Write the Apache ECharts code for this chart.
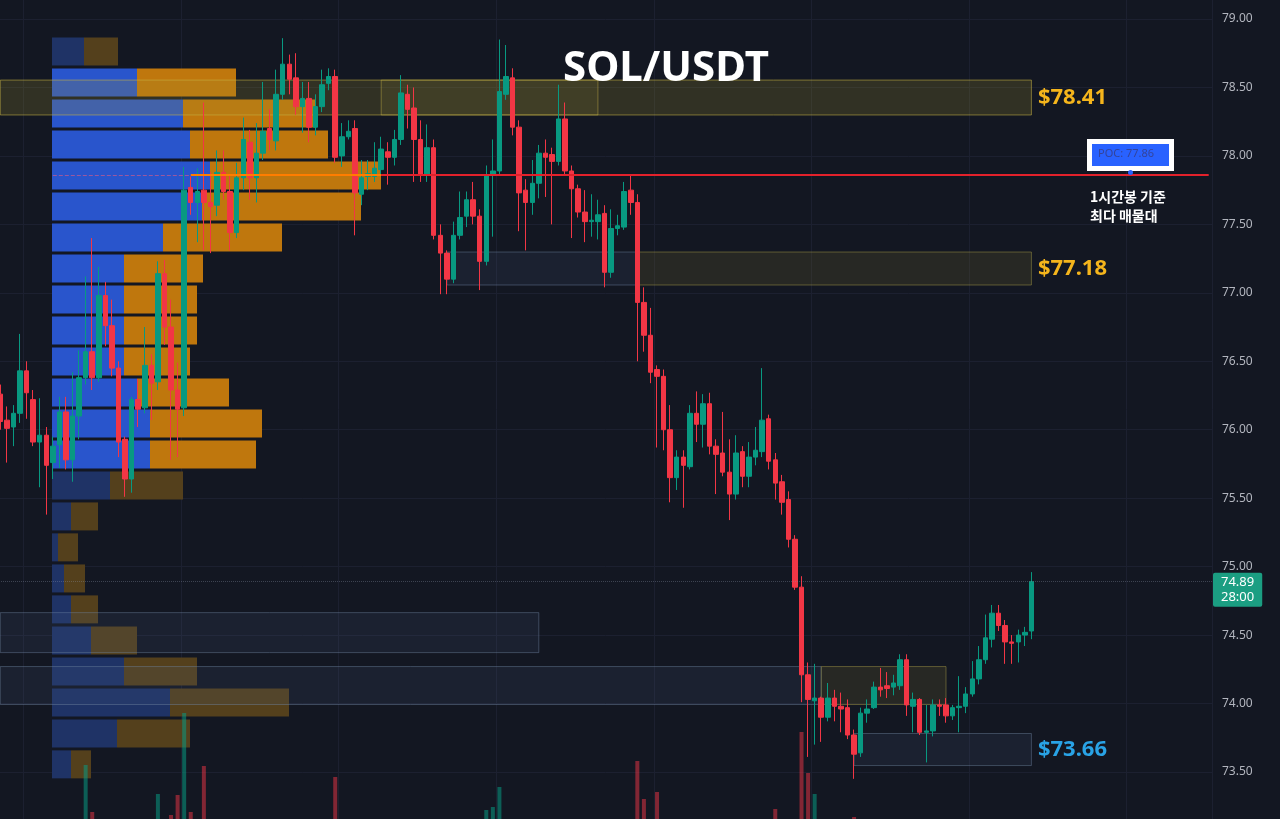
<!DOCTYPE html>
<html>
<head>
<meta charset="utf-8">
<title>SOL/USDT</title>
<script src="https://cdn.jsdelivr.net/npm/echarts@6/dist/echarts.min.js"></script>
<style>
  html, body { margin: 0; padding: 0; background: #131722; }
  #main { width: 1280px; height: 819px; }
</style>
</head>
<body>
<div id="main"></div>
<script>
// 1h candles, oldest first
const opens = [
  76.26,76.07,76.02,76.12,76.43,76.22,75.91,75.96,75.76,75.89,
  76.13,75.78,76.10,76.38,76.57,76.38,76.98,76.76,76.45,75.93,
  75.64,76.22,76.16,76.47,76.35,77.14,76.75,76.29,76.16,77.77,
  77.66,77.75,77.66,77.64,77.88,77.74,77.44,77.84,78.10,77.84,
  78.02,78.20,78.11,78.45,78.67,78.57,78.36,78.42,78.21,78.36,
  78.53,78.58,78.00,78.14,78.20,77.72,77.85,77.85,77.90,78.03,
  77.99,78.12,78.45,78.35,78.12,77.86,78.06,77.42,77.29,77.10,
  77.42,77.56,77.68,77.56,77.23,77.86,77.89,78.45,78.57,78.21,
  77.75,77.66,77.80,78.02,78.01,77.96,78.27,77.89,77.76,77.59,
  77.52,77.52,77.58,77.15,77.47,77.48,77.75,77.66,76.93,76.69,
  76.44,76.39,76.00,75.65,75.80,75.73,76.12,76.04,76.19,75.88,
  75.83,75.69,75.53,75.84,75.66,75.80,75.84,76.08,75.78,75.62,
  75.49,75.20,74.85,74.21,74.02,74.04,73.90,74.04,73.98,73.97,
  73.77,73.64,73.93,73.97,74.12,74.13,74.12,74.13,74.32,73.98,
  74.03,73.79,73.80,73.99,73.99,73.91,73.97,73.98,74.07,74.18,
  74.32,74.47,74.66,74.57,74.45,74.45,74.50,74.53
];
const closes = [
  76.06,76.01,76.12,76.43,76.27,75.91,75.96,75.74,75.88,76.13,
  75.78,76.10,76.38,76.57,76.38,76.98,76.76,76.45,75.91,75.64,
  76.22,76.15,76.47,76.34,77.14,76.75,76.29,76.15,77.75,77.66,
  77.74,77.66,77.63,77.88,77.74,77.44,77.84,78.12,77.84,78.02,
  78.18,78.12,78.45,78.67,78.56,78.36,78.42,78.21,78.36,78.52,
  78.58,77.99,78.14,78.18,77.73,77.84,77.87,77.91,78.05,77.99,
  78.12,78.46,78.34,78.12,77.86,78.06,77.42,77.29,77.10,77.42,
  77.55,77.68,77.56,77.23,77.86,77.89,78.47,78.58,78.21,77.73,
  77.66,77.80,78.02,77.99,77.96,78.27,77.89,77.76,77.59,77.52,
  77.53,77.57,77.15,77.47,77.49,77.74,77.66,76.93,76.69,76.42,
  76.39,76.00,75.65,75.80,75.74,76.12,76.04,76.19,75.88,75.82,
  75.69,75.53,75.83,75.66,75.80,75.85,76.07,75.77,75.61,75.47,
  75.20,74.85,74.21,74.03,74.04,73.90,74.04,73.98,73.96,73.77,
  73.63,73.93,73.96,74.12,74.10,74.11,74.15,74.32,73.99,74.03,
  73.79,73.80,73.99,73.98,73.91,73.97,73.98,74.07,74.18,74.32,
  74.48,74.66,74.57,74.45,74.44,74.50,74.52,74.89
];
const lows = [
  76.00,75.76,75.88,76.05,76.08,75.88,75.58,75.38,75.64,75.72,
  75.71,75.62,75.93,76.33,76.29,76.35,76.61,76.39,75.80,75.51,
  75.54,76.02,76.12,76.07,76.29,76.62,75.78,75.80,76.10,77.57,
  77.37,77.31,77.29,77.56,77.68,77.31,77.40,77.75,77.68,77.66,
  77.97,78.04,78.04,78.41,78.45,78.30,78.17,78.10,78.15,78.32,
  78.48,77.95,77.92,78.12,77.42,77.64,77.75,77.81,77.86,77.79,
  77.93,78.08,78.20,77.81,77.81,77.81,77.39,76.99,76.99,77.07,
  77.39,77.48,77.50,77.02,77.20,77.41,77.86,78.41,78.15,77.45,
  77.31,77.57,77.69,77.70,77.50,77.93,77.86,77.40,77.55,77.37,
  77.41,77.39,77.04,77.11,77.42,77.46,77.57,76.50,76.57,76.34,
  75.87,75.85,75.47,75.56,75.43,75.71,75.91,75.87,75.82,75.53,
  75.66,75.34,75.49,75.58,75.58,75.74,75.80,75.71,75.49,75.38,
  75.14,74.83,74.01,73.61,73.70,73.72,73.87,73.87,73.79,73.74,
  73.45,73.61,73.86,73.96,74.05,74.04,74.06,74.10,73.91,73.79,
  73.77,73.57,73.76,73.91,73.86,73.88,73.79,73.93,74.05,74.14,
  74.29,74.41,74.53,74.29,74.29,74.30,74.42,74.47
];
const highs = [
  76.33,76.17,76.18,76.70,76.50,76.29,76.23,76.02,75.95,76.24,
  76.24,76.42,76.58,77.12,77.40,77.19,77.08,76.95,76.50,75.95,
  76.24,76.37,76.75,76.55,77.23,77.24,76.95,76.49,77.92,77.85,
  77.91,78.39,77.88,78.04,78.04,77.86,77.95,78.28,78.19,78.24,
  78.54,78.34,78.63,78.86,78.74,78.75,78.54,78.54,78.45,78.63,
  78.64,78.63,78.24,78.26,78.26,77.97,77.97,78.10,78.14,78.10,
  78.19,78.59,78.52,78.50,78.26,78.23,78.12,77.50,77.31,77.52,
  77.74,77.74,77.81,77.61,77.93,78.12,78.85,78.81,78.64,78.26,
  77.83,77.97,78.08,78.12,78.06,78.52,78.39,77.93,77.79,77.75,
  77.72,77.68,77.64,77.61,77.57,77.81,77.86,77.72,77.04,76.89,
  76.47,76.44,76.18,75.85,75.85,76.18,76.28,76.26,76.27,75.93,
  76.13,75.93,75.96,75.88,75.91,76.02,76.45,76.11,75.83,75.67,
  75.55,75.23,74.93,74.30,74.29,74.05,74.15,74.10,74.08,74.03,
  73.81,73.97,74.03,74.16,74.26,74.23,74.21,74.36,74.36,74.08,
  74.04,73.99,74.03,74.03,74.04,73.99,74.20,74.12,74.31,74.42,
  74.65,74.72,74.72,74.61,74.50,74.54,74.56,74.96
];

// volume bars that rise into view at the bottom edge (candle index -> volume)
const volIndex = [13, 14, 24, 26, 27, 28, 29, 31, 51, 74, 75, 76, 97, 98, 100, 118, 122, 123, 124, 130];
const volValue = [1540, 1070, 1250, 1040, 1240, 2060, 1070, 1530, 1420, 1090, 1120, 1320, 1580, 1200, 1270, 1100, 1870, 1460, 1250, 1020];

// visible range volume profile (row top price, buy volume, sell volume)
const profileTop = [78.865, 78.639, 78.412, 78.186, 77.959, 77.733, 77.507, 77.280, 77.054, 76.827, 76.601, 76.375,
  76.148, 75.922, 75.695, 75.469, 75.243, 75.016, 74.790, 74.563, 74.337, 74.110, 73.884, 73.658];
const profileBuy = [32, 85, 131, 138, 158, 150, 111, 72, 72, 72, 72, 85, 98, 98, 58, 19, 6, 12, 19, 39, 72, 118, 65, 19];
const profileSell = [34, 99, 133, 138, 171, 159, 119, 79, 73, 73, 66, 92, 112, 106, 73, 27, 20, 21, 27, 46, 73, 119, 73, 20];
const valueArea = [0, 1, 1, 1, 1, 1, 1, 1, 1, 1, 1, 1, 1, 1, 0, 0, 0, 0, 0, 0, 0, 0, 0, 0];
const profileBin = 0.2264;

const pocPrice = 77.86;
const lastPrice = 74.89;
const barTimer = '28:00';

const slotCount = 185;  // candles + empty space on the right
const categories = [];
for (let i = 0; i < slotCount; i++) categories.push(String(i));

const candleData = [];
for (let i = 0; i < slotCount; i++) {
  if (i < opens.length) candleData.push([opens[i], closes[i], lows[i], highs[i]]);
  else candleData.push('-');
}

const UP = '#089981';
const DOWN = '#f23645';

const volData = [];
for (let i = 0; i < slotCount; i++) volData.push('-');
for (let k = 0; k < volIndex.length; k++) {
  const i = volIndex[k];
  volData[i] = {
    value: volValue[k],
    itemStyle: { color: closes[i] >= opens[i] ? 'rgba(8,153,129,0.55)' : 'rgba(242,54,69,0.5)' }
  };
}

const profileData = [];
for (let k = 0; k < profileTop.length; k++) {
  profileData.push([profileTop[k], profileBuy[k], profileSell[k], valueArea[k]]);
}

const zoneYellow = { color: 'rgba(160,145,45,0.22)', borderColor: 'rgba(200,180,70,0.55)', borderWidth: 1 };
const zoneOlive = { color: 'rgba(120,110,45,0.2)', borderColor: 'rgba(160,150,70,0.5)', borderWidth: 1 };
const zoneBlue = { color: 'rgba(80,100,135,0.14)', borderColor: 'rgba(110,130,160,0.45)', borderWidth: 1 };
const zoneLabel = function (text, color) {
  return { show: true, position: 'right', distance: 6, formatter: text, color: color,
    fontSize: 22, fontWeight: 'bold', fontFamily: 'Noto Sans' };
};

const chart = echarts.init(document.getElementById('main'));

const option = {
  backgroundColor: '#131722',
  animation: false,
  grid: [
    { left: -3, right: 68, top: -49.45, bottom: -21.45, outerBoundsMode: 'none', containLabel: false },
    { left: -3, right: 68, top: 700, bottom: -100, outerBoundsMode: 'none', containLabel: false },
    { left: 52, right: 228, top: -49.45, bottom: -21.45, outerBoundsMode: 'none', containLabel: false }
  ],
  xAxis: [
    {
      type: 'category', gridIndex: 0, data: categories, boundaryGap: true,
      axisLine: { show: false }, axisTick: { show: false }, axisLabel: { show: false },
      splitLine: {
        show: true,
        interval: function (index) { return index % 24 === 4; },
        lineStyle: { color: '#1c2030', width: 1 }
      }
    },
    {
      type: 'category', gridIndex: 1, data: categories, boundaryGap: true,
      axisLine: { show: false }, axisTick: { show: false }, axisLabel: { show: false }, splitLine: { show: false }
    },
    {
      type: 'value', gridIndex: 2, min: 0, max: 1000, show: false
    }
  ],
  yAxis: [
    {
      type: 'value', gridIndex: 0, position: 'right', min: 73, max: 79.5, interval: 0.5,
      axisLine: { show: false }, axisTick: { show: false },
      axisLabel: {
        margin: 10, color: '#b2b5be', fontSize: 12, fontFamily: 'Noto Sans',
        formatter: function (v) { return v.toFixed(2); }
      },
      splitLine: { show: true, lineStyle: { color: '#1c2030', width: 1 } }
    },
    { type: 'value', gridIndex: 1, min: 0, max: 2190, show: false },
    { type: 'value', gridIndex: 2, min: 73, max: 79.5, show: false }
  ],
  series: [
    {
      name: 'profile',
      type: 'custom',
      xAxisIndex: 2,
      yAxisIndex: 2,
      z: 0,
      silent: true,
      data: profileData,
      renderItem: function (params, api) {
        const top = api.value(0);
        const buy = api.value(1);
        const sell = api.value(2);
        const va = api.value(3) === 1;
        const p0 = api.coord([0, top]);
        const p1 = api.coord([buy, top - profileBin]);
        const p2 = api.coord([buy + sell, top - profileBin]);
        const h = p1[1] - p0[1] - 3;
        return {
          type: 'group',
          children: [
            { type: 'rect', shape: { x: p0[0], y: p0[1], width: p1[0] - p0[0], height: h },
              style: { fill: va ? '#2955cc' : '#1f3366' } },
            { type: 'rect', shape: { x: p1[0], y: p0[1], width: p2[0] - p1[0], height: h },
              style: { fill: va ? '#bf770d' : '#54401c' } }
          ]
        };
      }
    },
    {
      name: 'volume',
      type: 'bar',
      xAxisIndex: 1,
      yAxisIndex: 1,
      z: 2,
      barWidth: 4,
      data: volData
    },
    {
      name: 'SOL/USDT',
      type: 'candlestick',
      xAxisIndex: 0,
      yAxisIndex: 0,
      z: 3,
      barWidth: 5,
      data: candleData,
      itemStyle: {
        color: UP, color0: DOWN, borderColor: UP, borderColor0: DOWN, borderWidth: 1
      },
      markArea: {
        silent: true,
        z: 1,
        data: [
          [{ coord: [0, 78.554], itemStyle: zoneYellow, label: zoneLabel('$78.41', '#f5b51c') }, { coord: [157, 78.299] }],
          [{ coord: [58, 78.554], itemStyle: { color: 'rgba(170,155,60,0.12)', borderColor: 'rgba(200,180,70,0.45)', borderWidth: 1 } }, { coord: [91, 78.299] }],
          [{ coord: [68, 77.298], itemStyle: zoneBlue }, { coord: [97, 77.057] }],
          [{ coord: [97, 77.298], itemStyle: zoneOlive, label: zoneLabel('$77.18', '#f5b51c') }, { coord: [157, 77.057] }],
          [{ coord: [0, 74.664], itemStyle: zoneBlue }, { coord: [82, 74.372] }],
          [{ coord: [0, 74.270], itemStyle: zoneBlue }, { coord: [125, 73.993] }],
          [{ coord: [125, 74.270], itemStyle: zoneOlive }, { coord: [144, 73.993] }],
          [{ coord: [130, 73.781], itemStyle: zoneBlue, label: zoneLabel('$73.66', '#29a3e6') }, { coord: [157, 73.547] }]
        ]
      },
      markLine: {
        silent: true,
        symbol: 'none',
        z: 5,
        data: [
          [{ coord: [58, pocPrice], lineStyle: { color: '#e3212b', width: 2, type: 'solid' }, label: { show: false } },
           { coord: [184, pocPrice] }],
          [{ coord: [29, pocPrice], lineStyle: { color: '#ff7d00', width: 2, type: 'solid' }, label: { show: false } },
           { coord: [58, pocPrice] }],
          [{ coord: [8, pocPrice], lineStyle: { color: 'rgba(230,90,130,0.6)', width: 1, type: 'dashed' }, label: { show: false } },
           { coord: [29, pocPrice] }],
          {
            yAxis: lastPrice,
            lineStyle: { color: 'rgba(140,150,170,0.35)', width: 1, type: 'dotted' },
            label: {
              show: true, position: 'end', distance: 1, offset: [0, 8],
              formatter: lastPrice.toFixed(2) + '\n' + barTimer,
              backgroundColor: '#1b9e82', color: '#ffffff', fontSize: 13, fontFamily: 'Noto Sans',
              lineHeight: 15, padding: [2, 8, 2, 8], borderRadius: 2
            }
          }
        ]
      }
    }
  ],
  graphic: [
    {
      type: 'text', left: 563, top: 48, z: 10,
      style: { text: 'SOL/USDT', fill: '#ffffff', font: 'bold 42px "Noto Sans"' }
    },
    {
      type: 'rect', left: 1087, top: 139, z: 10,
      shape: { width: 87, height: 32 }, style: { fill: '#ffffff' }
    },
    {
      type: 'rect', left: 1092, top: 144, z: 11,
      shape: { width: 77, height: 22 }, style: { fill: '#2962ff' }
    },
    {
      type: 'text', left: 1098, top: 148, z: 12,
      style: { text: 'POC: ' + pocPrice.toFixed(2), fill: '#34449a', font: '11px "Noto Sans"' }
    },
    {
      type: 'circle', left: 1128, top: 170, z: 12,
      shape: { r: 2.5 }, style: { fill: '#2962ff' }
    },
    {
      type: 'text', left: 1090, top: 187, z: 10,
      style: { text: '1시간봉 기준\n최다 매물대', fill: '#ffffff', font: '600 14px "Noto Sans CJK KR"', lineHeight: 19 }
    }
  ]
};

chart.setOption(option);
</script>
</body>
</html>
